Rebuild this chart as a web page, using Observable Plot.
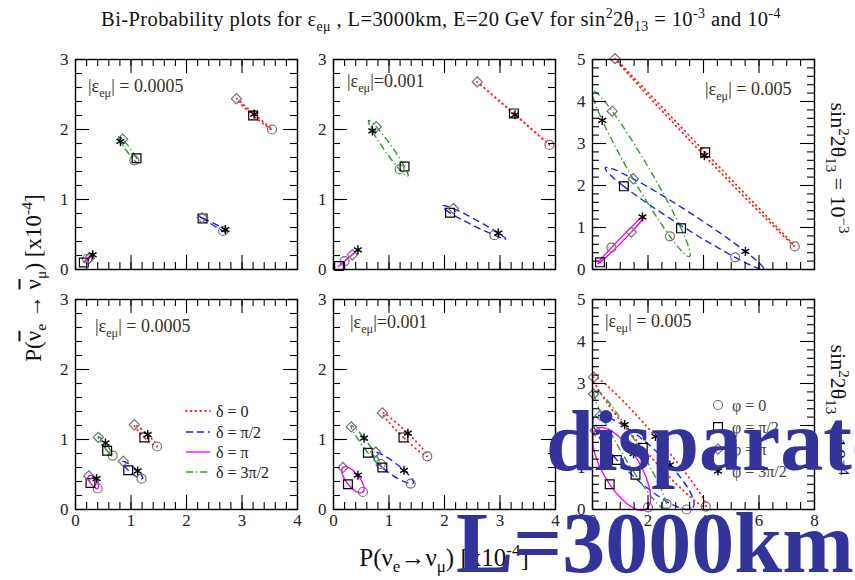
<!DOCTYPE html>
<html><head><meta charset="utf-8">
<script src="https://cdn.jsdelivr.net/npm/d3@7"></script>
<script src="https://cdn.jsdelivr.net/npm/@observablehq/plot@0.6"></script>
<style>
body{margin:0;background:#fff;}
#root{position:relative;width:855px;height:580px;overflow:hidden;font-family:"Liberation Serif",serif;color:#111;}
.abs{position:absolute;white-space:nowrap;line-height:1;}
sub,sup{font-size:68%;line-height:0;}
.plot{position:absolute;}
.ov{position:absolute;white-space:nowrap;font-weight:bold;color:#333399;font-size:86px;line-height:1;font-family:"Liberation Serif",serif;z-index:10;}
.ob{text-decoration:overline;}
</style></head><body><div id="root"></div>
<script>
// ---- labels ----
const deltaLabels = ["δ = 0", "δ = π/2", "δ = π", "δ = 3π/2"];
const phiLabels = ["φ = 0", "φ = π/2", "φ = π", "φ = 3π/2"];
const epsLabels = [" = 0.0005", "=0.001", " = 0.005"];
const xTicksSmall = [0, 1, 2, 3, 4];
const xTicksLarge = [0, 2, 4, 6, 8];
const yTicksSmall = [0, 1, 2, 3];
const yTicksLarge = [0, 1, 2, 3, 4, 5];

// ---- data: per δ (0, π/2, π, 3π/2), points [P(νe→νμ), P(ν̄e→ν̄μ)] at φ = 0, π/2, π, 3π/2 ----
// sin²2θ13 = 1e-3
const eps0005_s3 = [
  [[3.54, 2.00], [3.20, 2.20], [2.90, 2.44], [3.22, 2.22]],
  [[2.66, 0.55], [2.29, 0.73], [2.28, 0.74], [2.70, 0.57]],
  [[0.21, 0.15], [0.15, 0.10], [0.25, 0.16], [0.31, 0.21]],
  [[1.06, 1.56], [1.10, 1.59], [0.85, 1.86], [0.81, 1.83]]
];
const eps001_s3 = [
  [[3.89, 1.78], [3.25, 2.23], [2.59, 2.68], [3.27, 2.21]],
  [[2.90, 0.49], [2.10, 0.81], [2.16, 0.87], [2.97, 0.52]],
  [[0.20, 0.12], [0.10, 0.05], [0.34, 0.21], [0.44, 0.28]],
  [[1.19, 1.43], [1.28, 1.47], [0.77, 2.04], [0.70, 1.98]]
];
const eps005_s3 = [
  [[7.29, 0.55], [4.06, 2.79], [0.81, 5.02], [4.03, 2.71]],
  [[5.14, 0.29], [1.13, 1.98], [1.47, 2.16], [5.51, 0.43]],
  [[0.68, 0.52], [0.27, 0.17], [1.40, 0.89], [1.80, 1.25]],
  [[2.79, 0.79], [3.19, 0.98], [0.71, 3.77], [0.35, 3.55]]
];
// sin²2θ13 = 1e-4
const eps0005_s4 = [
  [[1.47, 0.90], [1.24, 1.03], [1.06, 1.21], [1.30, 1.07]],
  [[1.19, 0.44], [0.95, 0.56], [0.86, 0.69], [1.12, 0.55]],
  [[0.40, 0.30], [0.27, 0.38], [0.24, 0.48], [0.38, 0.44]],
  [[0.67, 0.77], [0.57, 0.84], [0.41, 1.03], [0.54, 0.95]]
];
const eps001_s4 = [
  [[1.69, 0.76], [1.26, 1.03], [0.88, 1.38], [1.34, 1.09]],
  [[1.39, 0.37], [0.88, 0.60], [0.76, 0.82], [1.27, 0.56]],
  [[0.53, 0.25], [0.26, 0.36], [0.17, 0.60], [0.44, 0.49]],
  [[0.85, 0.65], [0.62, 0.81], [0.32, 1.18], [0.55, 1.02]]
];
const eps005_s4 = [
  [[4.08, 0.07], [1.81, 1.47], [0.04, 3.15], [2.27, 1.74]],
  [[3.39, 0.00], [0.88, 1.18], [0.28, 2.24], [2.79, 1.06]],
  [[2.00, 0.05], [0.62, 0.60], [0.10, 1.88], [1.48, 1.33]],
  [[2.67, 0.13], [1.55, 0.83], [0.04, 2.75], [1.16, 2.02]]
];

// ---- styles ----
const deltaColors = ["#ff1a1a", "#1f1fff", "#ff00ff", "#2f9a2f"];
const deltaDash = ["0.6,4.2", "7,4", null, "7,3,1.2,3"];
const deltaWidth = [1.8, 1.4, 1.4, 1.4];
const phiSymbols = ["circle", "square2", "diamond2", "asterisk"];
const phiStroke = ["#707070", "#000", "#707070", "#000"];
const phiR = [4.5, 5.6, 4.6, 4.3];

const W = 222, H = 210, ML = 40, MR = 14, MT = 12, MB = 30;
const root = document.getElementById("root");

function panel(data, {xMax, yMax, xMajor, yMajor, xLabels, left, top}) {
  const xMinor = d3.ticks(0, xMax, xMax === 8 ? 16 : 20);
  const yMinor = d3.ticks(0, yMax, yMax * 5);
  const marks = [];
  data.forEach((pts, di) => {
    marks.push(Plot.line(pts, {
      x: d => d[0], y: d => d[1], curve: "cardinal-closed", tension: -0.657,
      stroke: deltaColors[di], strokeWidth: deltaWidth[di],
      strokeDasharray: deltaDash[di], strokeLinecap: di === 0 ? "round" : "butt"
    }));
  });
  for (let pi = 0; pi < 4; pi++) {
    const pts = data.map(d => d[pi]);
    marks.push(Plot.dot(pts, {
      x: d => d[0], y: d => d[1], symbol: phiSymbols[pi], r: phiR[pi],
      stroke: phiStroke[pi], strokeWidth: pi === 3 ? 1.4 : 1.2, fill: "none"
    }));
  }
  const t = {stroke: "#000", strokeWidth: 1.1};
  const fmt = d3.format("d");
  marks.push(
    Plot.tickX(xMinor, {x: d => d, insetTop: H - 7, ...t}),
    Plot.tickX(xMajor, {x: d => d, insetTop: H - 14, ...t}),
    Plot.tickX(xMinor, {x: d => d, insetBottom: H - 7, ...t}),
    Plot.tickX(xMajor, {x: d => d, insetBottom: H - 14, ...t}),
    Plot.tickY(yMinor, {y: d => d, insetRight: W - 7, ...t}),
    Plot.tickY(yMajor, {y: d => d, insetRight: W - 14, ...t}),
    Plot.tickY(yMinor, {y: d => d, insetLeft: W - 7, ...t}),
    Plot.tickY(yMajor, {y: d => d, insetLeft: W - 14, ...t}),
    Plot.frame({stroke: "#000", strokeWidth: 1.4}),
    Plot.axisY(yMajor, {tickSize: 0, tickPadding: 7, fontSize: 17, label: null, fill: "#222", tickFormat: fmt})
  );
  if (xLabels) marks.push(Plot.axisX(xMajor, {tickSize: 0, tickPadding: 4, fontSize: 17, label: null, fill: "#222", tickFormat: fmt}));
  const svg = Plot.plot({
    width: W + ML + MR, height: H + MT + MB,
    marginLeft: ML, marginRight: MR, marginTop: MT, marginBottom: MB,
    x: {domain: [0, xMax], ...(xLabels ? {} : {axis: null})},
    y: {domain: [0, yMax]},
    style: {fontFamily: "Liberation Serif, serif", fontSize: "17px", background: "transparent", overflow: "visible"},
    marks
  });
  svg.classList.add("plot");
  svg.style.left = (left - ML) + "px";
  svg.style.top = (top - MT) + "px";
  root.appendChild(svg);
}

const small = {xMax: 4, yMax: 3, xMajor: xTicksSmall, yMajor: yTicksSmall};
const large = {xMax: 8, yMax: 5, xMajor: xTicksLarge, yMajor: yTicksLarge};
panel(eps0005_s3, {...small, xLabels: false, left: 75, top: 59});
panel(eps001_s3, {...small, xLabels: false, left: 333, top: 59});
panel(eps005_s3, {...large, xLabels: false, left: 592, top: 59});
panel(eps0005_s4, {...small, xLabels: true, left: 75, top: 299});
panel(eps001_s4, {...small, xLabels: true, left: 333, top: 299});
panel(eps005_s4, {...large, xLabels: true, left: 592, top: 299});

// ---- text ----
function addText(html, css) {
  const d = document.createElement("div");
  d.className = "abs";
  d.innerHTML = html;
  Object.assign(d.style, css);
  root.appendChild(d);
  return d;
}
const epsHTML = i => `|ε<sub>eμ</sub>|${epsLabels[i]}`;
const epsPos = [[88, 77], [347, 72], [705, 80], [95, 317], [350, 313], [605, 312]];
epsPos.forEach(([x, y], k) => addText(epsHTML(k % 3), {left: x + "px", top: y + "px", fontSize: "18px", color: "#3a3020"}));

addText("Bi-Probability plots for ε<sub>eμ</sub> , L=3000km, E=20 GeV for sin<sup>2</sup>2θ<sub>13</sub> = 10<sup>-3</sup> and 10<sup>-4</sup>",
  {left: "441px", top: "19px", fontSize: "20.5px", letterSpacing: "0.4px", transform: "translate(-50%,-50%)"});
addText("P(<span class='ob'>ν</span><sub>e</sub> → <span class='ob'>ν</span><sub>μ</sub>) [x10<sup>-4</sup>]",
  {left: "33px", top: "278px", fontSize: "23px", transform: "translate(-50%,-50%) rotate(-90deg)"});
addText("P(ν<sub>e</sub>→ν<sub>μ</sub>) [x10<sup>-4</sup>]",
  {left: "444px", top: "557px", fontSize: "25px", transform: "translate(-50%,-50%)"});
addText("sin<sup>2</sup>2θ<sub>13</sub> = 10<sup>−3</sup>",
  {left: "838px", top: "168px", fontSize: "22px", transform: "translate(-50%,-50%) rotate(90deg)"});
addText("sin<sup>2</sup>2θ<sub>13</sub> = 10<sup>−4</sup>",
  {left: "838px", top: "410px", fontSize: "22px", transform: "translate(-50%,-50%) rotate(90deg)"});

// ---- legends ----
const ov = d3.select(root).append("svg")
  .attr("width", 855).attr("height", 580)
  .style("position", "absolute").style("left", 0).style("top", 0)
  .style("font-family", "Liberation Serif, serif");
const dRows = [411, 432, 452, 472];
deltaLabels.forEach((lab, i) => {
  ov.append("line").attr("x1", 186).attr("x2", 210).attr("y1", dRows[i]).attr("y2", dRows[i])
    .attr("stroke", deltaColors[i]).attr("stroke-width", deltaWidth[i])
    .attr("stroke-dasharray", deltaDash[i]).attr("stroke-linecap", i === 0 ? "round" : "butt");
  ov.append("text").attr("x", 216).attr("y", dRows[i]).attr("dy", "0.35em")
    .attr("font-size", 16).attr("fill", "#222").text(lab);
});
const pRows = [405, 427, 449, 471];
const d3sym = [d3.symbolCircle, d3.symbolSquare2, d3.symbolDiamond2, d3.symbolAsterisk];
phiLabels.forEach((lab, i) => {
  ov.append("path").attr("d", d3.symbol(d3sym[i], Math.PI * phiR[i] * phiR[i])())
    .attr("transform", `translate(718,${pRows[i]})`)
    .attr("fill", "none").attr("stroke", phiStroke[i]).attr("stroke-width", i === 3 ? 1.4 : 1.2);
  ov.append("text").attr("x", 732).attr("y", pRows[i]).attr("dy", "0.35em")
    .attr("font-size", 16).attr("fill", "#444").text(lab);
});

// ---- overlay words ----
const o1 = document.createElement("div"); o1.className = "ov"; o1.textContent = "disparate";
o1.style.left = "546px"; o1.style.top = "398px"; root.appendChild(o1);
const o2 = document.createElement("div"); o2.className = "ov"; o2.textContent = "L=3000km";
o2.style.left = "456px"; o2.style.top = "500px"; root.appendChild(o2);
</script></body></html>
